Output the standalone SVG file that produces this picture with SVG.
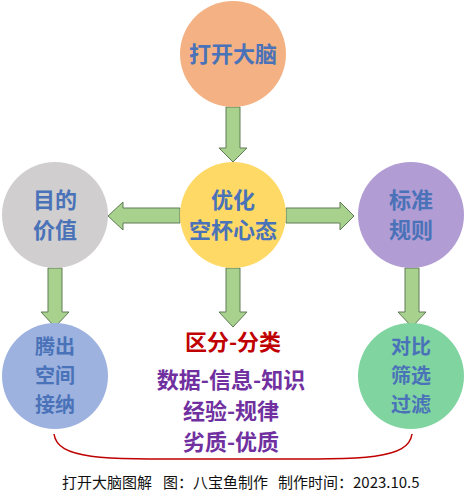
<svg xmlns="http://www.w3.org/2000/svg" width="466" height="501" viewBox="0 0 466 501">
<style>
.lbl{font-family:"Noto Sans CJK SC","Noto Sans",sans-serif;font-weight:bold;font-size:22px;fill:#4a72b8;text-anchor:middle}
.sm{font-size:20px}
.arr{fill:#a9d18e;stroke:#5e7a55;stroke-width:1}
.red{font-family:"Noto Sans CJK SC",sans-serif;font-weight:bold;font-size:22px;fill:#c00000;text-anchor:middle}
.pur{font-family:"Noto Sans CJK SC",sans-serif;font-weight:bold;font-size:22px;fill:#7030a0;text-anchor:middle}
.foot{font-family:"Noto Sans CJK SC",sans-serif;font-size:15px;fill:#111}
</style>
<rect width="466" height="501" fill="#fff"/>
<g id="connectors">
<polygon class="arr" points="226,107 240,107 240,148 247,148 233,162 219,148 226,148"/>
<polygon class="arr" points="180,208 123,208 123,202 108,216 123,230 123,223 180,223"/>
<polygon class="arr" points="286,208 340,208 340,202 354,216 340,230 340,223 286,223"/>
<polygon class="arr" points="48,268 62,268 62,312 69,312 55,327 41,312 48,312"/>
<polygon class="arr" points="226,268 240,268 240,312 247,312 233,327 219,312 226,312"/>
<polygon class="arr" points="405,268 419,268 419,312 426,312 412,327 398,312 405,312"/>
<path d="M54 434 C58 462 110 459 233 459 C356 459 408 462 412 434" fill="none" stroke="#c00000" stroke-width="1.5"/>
</g>
<g id="n-top"><circle cx="233" cy="54" r="53" fill="#f4b183"/><text class="lbl" x="233" y="62">打开大脑</text></g>
<g id="n-center"><circle cx="233" cy="215" r="53" fill="#ffd966"/><text class="lbl" x="233" y="208">优化</text><text class="lbl" x="233" y="238">空杯心态</text></g>
<g id="n-left"><circle cx="55" cy="215" r="53" fill="#d0cece"/><text class="lbl" x="55" y="208">目的</text><text class="lbl" x="55" y="238">价值</text></g>
<g id="n-right"><circle cx="411" cy="215" r="53" fill="#b19cd4"/><text class="lbl" x="411" y="208">标准</text><text class="lbl" x="411" y="238">规则</text></g>
<g id="n-bl"><circle cx="55" cy="376" r="53" fill="#9db2df"/><text class="lbl sm" x="55" y="354">腾出</text><text class="lbl sm" x="55" y="383">空间</text><text class="lbl sm" x="55" y="412">接纳</text></g>
<g id="n-br"><circle cx="411" cy="376" r="53" fill="#7fd4a0"/><text class="lbl sm" x="411" y="354">对比</text><text class="lbl sm" x="411" y="383">筛选</text><text class="lbl sm" x="411" y="412">过滤</text></g>
<g id="n-mid">
<text class="red" x="233" y="350">区分-分类</text>
<text class="pur" x="231" y="388">数据-信息-知识</text>
<text class="pur" x="231" y="419">经验-规律</text>
<text class="pur" x="231" y="450">劣质-优质</text>
</g>
<g id="footer">
<text class="foot" x="62" y="488">打开大脑图解</text>
<text class="foot" x="163" y="488">图：八宝鱼制作</text>
<text class="foot" x="278" y="488">制作时间：2023.10.5</text>
</g>
</svg>
